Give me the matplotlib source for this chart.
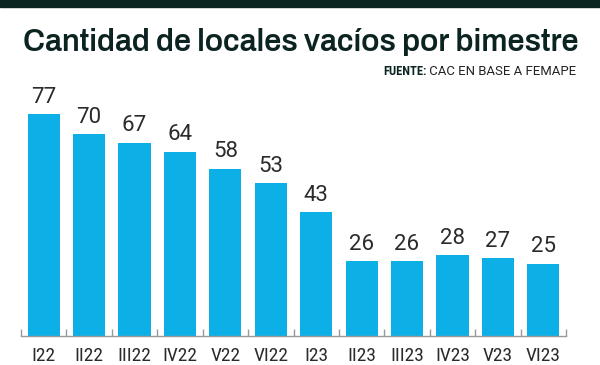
import matplotlib.pyplot as plt
from matplotlib.ticker import FixedLocator

periodos = ["I22", "II22", "III22", "IV22", "V22", "VI22",
            "I23", "II23", "III23", "IV23", "V23", "VI23"]
locales = [77, 70, 67, 64, 58, 53, 43, 26, 26, 28, 27, 25]

titulo = "Cantidad de locales vacíos por bimestre"
fuente_neg = "FUENTE:"
fuente = " CAC EN BASE A FEMAPE"

azul = "#0db0e6"
texto = "#2b2b2b"
oscuro = "#0b2321"
narrow = ["Roboto Condensed", "DejaVu Sans"]
normal = ["Roboto", "DejaVu Sans"]

fig = plt.figure(figsize=(6, 3.65), dpi=100)
fig.patch.set_facecolor("white")

# franja oscura arriba
fig.add_artist(plt.Rectangle((0, 1 - 7 / 365), 1, 7 / 365,
                             transform=fig.transFigure, color=oscuro))

fig.canvas.draw()
r = fig.canvas.get_renderer()
t = fig.text(301 / 600, 1 - 51 / 365, titulo, ha="center", va="baseline",
             fontsize=20, fontweight="bold", color=oscuro,
             family=["Archivo", "DejaVu Sans"])
# ajustar el ancho del título al de la referencia
t.set_fontsize(20 * 556 / t.get_window_extent(r).width)

t1 = fig.text(383 / 600, 1 - 75 / 365, fuente_neg, ha="left", va="baseline",
              fontsize=9, fontweight="bold", color=oscuro, family=narrow)
bb = t1.get_window_extent(r)
t2 = fig.text(bb.x1 / fig.bbox.width, 1 - 75 / 365, fuente, ha="left", va="baseline",
              fontsize=9, color="#222222", family=normal)
w2 = t2.get_window_extent(r).width
t2.set_fontsize(9 * (576 - bb.x1) / w2)

ax = fig.add_axes([21 / 600, 29 / 365, 545 / 600, 256 / 365])
x = range(len(periodos))
bars = ax.bar(x, locales, width=0.71, color=azul)
for b, v in zip(bars, locales):
    ax.text(b.get_x() + b.get_width() / 2, v + 2.3, str(v), ha="center",
            va="bottom", fontsize=16, color=texto, family=normal)

ax.set_xlim(-0.5, len(periodos) - 0.5)
ax.set_ylim(0, 88.9)
ax.set_xticks(list(x))
ax.set_xticklabels(periodos, fontsize=14, color=texto, family=narrow)
ax.tick_params(axis="x", which="major", length=0, pad=8)
ax.xaxis.set_minor_locator(FixedLocator([i - 0.5 for i in range(len(periodos) + 1)]))
ax.tick_params(axis="x", which="minor", direction="in", length=5, color="#999999", width=1)
ax.set_yticks([])
for s in ["top", "left", "right"]:
    ax.spines[s].set_visible(False)
ax.spines["bottom"].set_color("#999999")
ax.spines["bottom"].set_linewidth(1)

fig.savefig("out.png", dpi=100)
